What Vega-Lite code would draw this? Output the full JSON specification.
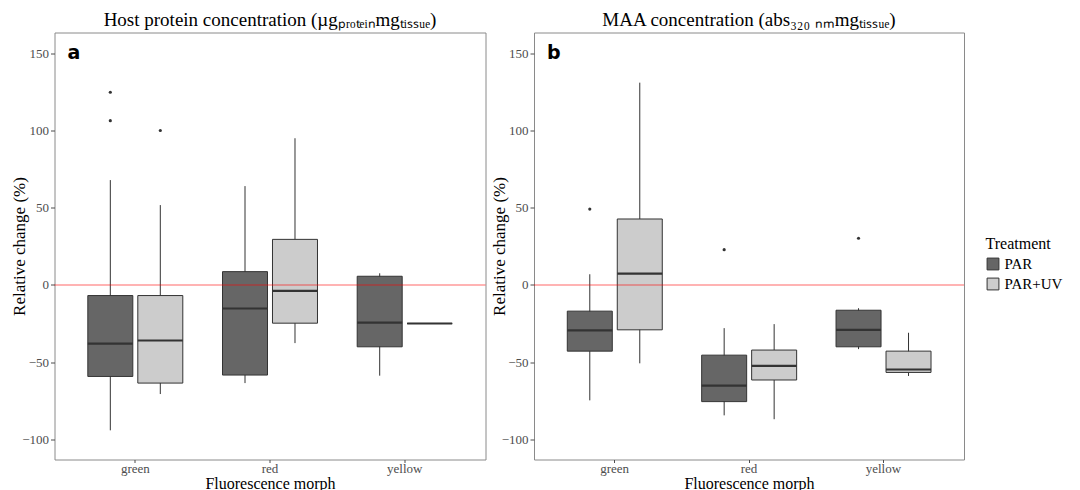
{
  "$schema": "https://vega.github.io/schema/vega-lite/v6.json",
  "background": "white",
  "padding": {"left": 9.5, "top": 9.5, "right": 5, "bottom": 0},
  "spacing": 1.5,
  "config": {
    "font": "Liberation Serif",
    "view": {"stroke": "#8a8a8a", "strokeWidth": 1},
    "axis": {
      "grid": false,
      "domain": false,
      "labelFont": "Liberation Serif",
      "labelFontSize": 13,
      "labelColor": "#4d4d4d",
      "titleFont": "Liberation Serif",
      "titleFontSize": 17,
      "titleFontWeight": "normal",
      "titleColor": "black",
      "tickColor": "#4d4d4d",
      "tickSize": 4
    },
    "axisX": {"labelAngle": 0, "titlePadding": 0, "labelPadding": 0, "tickSize": 3, "titleFontSize": 16},
    "axisY": {"labelPadding": 2, "titleX": -35, "titleBaseline": "middle"},
    "title": {"font": "Liberation Serif", "fontSize": 19, "fontWeight": "normal", "color": "black", "anchor": "middle", "offset": 3},
    "legend": {
      "titleFont": "Liberation Serif",
      "titleFontSize": 16,
      "titleFontWeight": "normal",
      "titleColor": "black",
      "labelFont": "Liberation Serif",
      "labelFontSize": 15,
      "labelColor": "black",
      "symbolType": "square",
      "symbolSize": 140,
      "symbolStrokeColor": "#333333",
      "symbolStrokeWidth": 1,
      "rowPadding": 3
    }
  },
  "datasets": {
    "box": [
      {"panel": "a", "morph": "green", "treatment": "PAR", "lower": -94.2, "q1": -59.3, "median": -38.1, "q3": -6.9, "upper": 67.9},
      {"panel": "a", "morph": "green", "treatment": "PAR+UV", "lower": -70.7, "q1": -63.6, "median": -36.0, "q3": -6.9, "upper": 51.7},
      {"panel": "a", "morph": "red", "treatment": "PAR", "lower": -63.6, "q1": -58.4, "median": -15.3, "q3": 8.6, "upper": 64.0},
      {"panel": "a", "morph": "red", "treatment": "PAR+UV", "lower": -37.7, "q1": -24.8, "median": -3.9, "q3": 29.5, "upper": 95.0},
      {"panel": "a", "morph": "yellow", "treatment": "PAR", "lower": -58.8, "q1": -40.1, "median": -24.4, "q3": 5.6, "upper": 7.5},
      {"panel": "a", "morph": "yellow", "treatment": "PAR+UV", "lower": -25.0, "q1": -25.0, "median": -25.0, "q3": -25.0, "upper": -25.0},
      {"panel": "b", "morph": "green", "treatment": "PAR", "lower": -74.8, "q1": -42.9, "median": -29.5, "q3": -17.0, "upper": 6.9},
      {"panel": "b", "morph": "green", "treatment": "PAR+UV", "lower": -50.8, "q1": -29.1, "median": 7.3, "q3": 42.7, "upper": 131.0},
      {"panel": "b", "morph": "red", "treatment": "PAR", "lower": -84.5, "q1": -75.6, "median": -65.3, "q3": -45.5, "upper": -28.0},
      {"panel": "b", "morph": "red", "treatment": "PAR+UV", "lower": -87.0, "q1": -61.6, "median": -52.4, "q3": -42.2, "upper": -25.4},
      {"panel": "b", "morph": "yellow", "treatment": "PAR", "lower": -41.6, "q1": -40.1, "median": -29.1, "q3": -16.4, "upper": -15.1},
      {"panel": "b", "morph": "yellow", "treatment": "PAR+UV", "lower": -59.0, "q1": -56.7, "median": -54.8, "q3": -42.9, "upper": -31.0}
    ],
    "outliers": [
      {"panel": "a", "morph": "green", "treatment": "PAR", "value": 124.8},
      {"panel": "a", "morph": "green", "treatment": "PAR", "value": 106.4},
      {"panel": "a", "morph": "green", "treatment": "PAR+UV", "value": 100.0},
      {"panel": "b", "morph": "green", "treatment": "PAR", "value": 49.1},
      {"panel": "b", "morph": "red", "treatment": "PAR", "value": 22.8},
      {"panel": "b", "morph": "yellow", "treatment": "PAR", "value": 30.2}
    ]
  },
  "hconcat": [
    {
      "width": 431,
      "height": 427,
      "title": {"text": "Host protein concentration (µgₚᵣₒₜₑᵢₙmgₜᵢₛₛᵤₑ)"},
      "layer": [
        {
          "data": {"name": "box"},
          "transform": [{"filter": "datum.panel == 'a'"}],
          "mark": {"type": "rule", "color": "#333333", "strokeWidth": 1},
          "encoding": {
            "x": {"field": "morph", "type": "nominal", "scale": {"domain": ["green", "red", "yellow"], "paddingInner": 0, "paddingOuter": 0.1}, "axis": {"title": "Fluorescence morph"}},
            "xOffset": {"field": "treatment", "type": "nominal", "scale": {"domain": ["PAR", "PAR+UV"], "paddingInner": 0.1, "paddingOuter": 0.397}},
            "y": {"field": "lower", "type": "quantitative", "scale": {"domain": [-113.1, 163.5], "nice": false, "zero": false}, "axis": {"title": "Relative change (%)", "values": [-100, -50, 0, 50, 100, 150]}},
            "y2": {"field": "upper"}
          }
        },
        {
          "data": {"name": "box"},
          "transform": [{"filter": "datum.panel == 'a'"}],
          "mark": {"type": "bar", "stroke": "#333333", "strokeWidth": 1},
          "encoding": {
            "x": {"field": "morph", "type": "nominal"},
            "xOffset": {"field": "treatment", "type": "nominal"},
            "y": {"field": "q1", "type": "quantitative"},
            "y2": {"field": "q3"},
            "fill": {"field": "treatment", "type": "nominal", "scale": {"domain": ["PAR", "PAR+UV"], "range": ["#666666", "#cccccc"]}, "legend": {"title": "Treatment", "orient": "none", "legendX": 931, "legendY": 203}}
          }
        },
        {
          "data": {"name": "box"},
          "transform": [{"filter": "datum.panel == 'a'"}],
          "mark": {"type": "bar", "fill": null, "fillOpacity": 0, "stroke": "#333333", "strokeWidth": 2.2},
          "encoding": {
            "x": {"field": "morph", "type": "nominal"},
            "xOffset": {"field": "treatment", "type": "nominal"},
            "y": {"field": "median", "type": "quantitative"},
            "y2": {"field": "median"}
          }
        },
        {
          "data": {"name": "outliers"},
          "transform": [{"filter": "datum.panel == 'a'"}],
          "mark": {"type": "circle", "size": 10, "color": "#333333", "opacity": 1},
          "encoding": {
            "x": {"field": "morph", "type": "nominal"},
            "xOffset": {"field": "treatment", "type": "nominal"},
            "y": {"field": "value", "type": "quantitative"}
          }
        },
        {
          "data": {"values": [{"ref": 0}]},
          "mark": {"type": "rule", "color": "red", "opacity": 0.4, "strokeWidth": 1.5},
          "encoding": {"y": {"field": "ref", "type": "quantitative"}}
        },
        {
          "data": {"values": [{"label": "a", "pos": 150}]},
          "mark": {"type": "text", "font": "DejaVu Sans", "fontWeight": "bold", "fontSize": 19, "align": "left", "baseline": "middle", "color": "black"},
          "encoding": {"text": {"field": "label"}, "x": {"value": 13}, "y": {"field": "pos", "type": "quantitative"}}
        }
      ]
    },
    {
      "width": 430,
      "height": 427,
      "title": {"text": "MAA concentration (abs₃₂₀ ₙₘmgₜᵢₛₛᵤₑ)"},
      "layer": [
        {
          "data": {"name": "box"},
          "transform": [{"filter": "datum.panel == 'b'"}],
          "mark": {"type": "rule", "color": "#333333", "strokeWidth": 1},
          "encoding": {
            "x": {"field": "morph", "type": "nominal", "scale": {"domain": ["green", "red", "yellow"], "paddingInner": 0, "paddingOuter": 0.1}, "axis": {"title": "Fluorescence morph"}},
            "xOffset": {"field": "treatment", "type": "nominal", "scale": {"domain": ["PAR", "PAR+UV"], "paddingInner": 0.1, "paddingOuter": 0.397}},
            "y": {"field": "lower", "type": "quantitative", "scale": {"domain": [-113.1, 163.5], "nice": false, "zero": false}, "axis": {"title": "Relative change (%)", "values": [-100, -50, 0, 50, 100, 150]}},
            "y2": {"field": "upper"}
          }
        },
        {
          "data": {"name": "box"},
          "transform": [{"filter": "datum.panel == 'b'"}],
          "mark": {"type": "bar", "stroke": "#333333", "strokeWidth": 1},
          "encoding": {
            "x": {"field": "morph", "type": "nominal"},
            "xOffset": {"field": "treatment", "type": "nominal"},
            "y": {"field": "q1", "type": "quantitative"},
            "y2": {"field": "q3"},
            "fill": {"field": "treatment", "type": "nominal"}
          }
        },
        {
          "data": {"name": "box"},
          "transform": [{"filter": "datum.panel == 'b'"}],
          "mark": {"type": "bar", "fill": null, "fillOpacity": 0, "stroke": "#333333", "strokeWidth": 2.2},
          "encoding": {
            "x": {"field": "morph", "type": "nominal"},
            "xOffset": {"field": "treatment", "type": "nominal"},
            "y": {"field": "median", "type": "quantitative"},
            "y2": {"field": "median"}
          }
        },
        {
          "data": {"name": "outliers"},
          "transform": [{"filter": "datum.panel == 'b'"}],
          "mark": {"type": "circle", "size": 10, "color": "#333333", "opacity": 1},
          "encoding": {
            "x": {"field": "morph", "type": "nominal"},
            "xOffset": {"field": "treatment", "type": "nominal"},
            "y": {"field": "value", "type": "quantitative"}
          }
        },
        {
          "data": {"values": [{"ref": 0}]},
          "mark": {"type": "rule", "color": "red", "opacity": 0.4, "strokeWidth": 1.5},
          "encoding": {"y": {"field": "ref", "type": "quantitative"}}
        },
        {
          "data": {"values": [{"label": "b", "pos": 150}]},
          "mark": {"type": "text", "font": "DejaVu Sans", "fontWeight": "bold", "fontSize": 19, "align": "left", "baseline": "middle", "color": "black"},
          "encoding": {"text": {"field": "label"}, "x": {"value": 13}, "y": {"field": "pos", "type": "quantitative"}}
        }
      ]
    }
  ]
}
